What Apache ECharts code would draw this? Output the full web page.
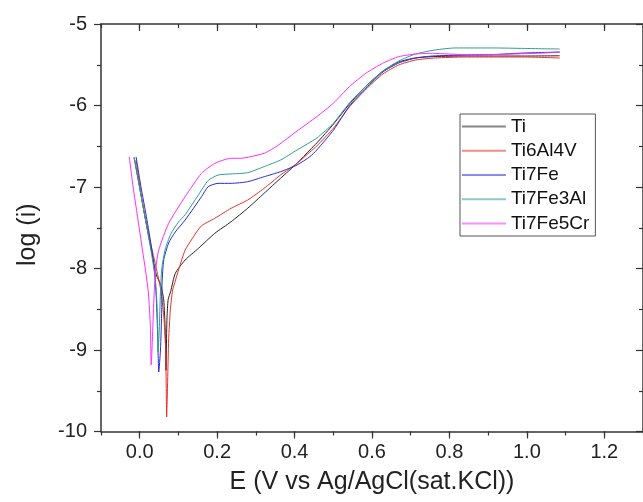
<!DOCTYPE html>
<html>
<head>
<meta charset="utf-8">
<script src="https://cdn.jsdelivr.net/npm/echarts@6/dist/echarts.min.js"></script>
<style>
html,body{margin:0;padding:0;background:#fff;}
#c{width:643px;height:502px;}
</style>
</head>
<body>
<div id="c"></div>
<script>
// Tick labels
const xMajorTicks = [0.0, 0.2, 0.4, 0.6, 0.8, 1.0, 1.2];
const seriesNames = ['Ti', 'Ti6Al4V', 'Ti7Fe', 'Ti7Fe3Al', 'Ti7Fe5Cr'];

// [E (V), log(i)]
const ti = [[-0.0145,-6.64],[-0.0005,-7.0],[0.0135,-7.365],[0.0301,-7.773],[0.0429,-8.08],[0.0543,-8.2],[0.062,-8.387],[0.0658,-8.755],[0.0679,-9.25],[0.0688,-9.0],[0.0705,-8.6],[0.0735,-8.38],[0.08,-8.28],[0.0918,-8.06],[0.1173,-7.896],[0.1518,-7.752],[0.194,-7.568],[0.2362,-7.426],[0.2788,-7.261],[0.3214,-7.077],[0.3638,-6.893],[0.4064,-6.709],[0.4395,-6.546],[0.4574,-6.46],[0.5008,-6.227],[0.5416,-5.982],[0.5849,-5.761],[0.6283,-5.577],[0.6691,-5.466],[0.7125,-5.417],[0.763,-5.399],[0.84,-5.393],[0.917,-5.393],[0.9932,-5.393],[1.085,-5.39]];
const ti6al4v = [[-0.0094,-6.67],[0.0059,-7.16],[0.0237,-7.6],[0.0416,-7.97],[0.0543,-8.264],[0.062,-8.571],[0.0671,-9.0],[0.0696,-9.822],[0.0722,-9.368],[0.0747,-8.877],[0.0791,-8.509],[0.085,-8.264],[0.0926,-8.141],[0.1003,-8.018],[0.1173,-7.773],[0.1334,-7.65],[0.1589,-7.479],[0.1939,-7.384],[0.2362,-7.261],[0.2788,-7.16],[0.3214,-7.016],[0.3638,-6.853],[0.4064,-6.709],[0.4395,-6.571],[0.4574,-6.497],[0.5008,-6.276],[0.5416,-6.018],[0.5849,-5.798],[0.6283,-5.613],[0.6691,-5.503],[0.7125,-5.442],[0.763,-5.417],[0.84,-5.405],[0.917,-5.405],[0.9932,-5.405],[1.085,-5.417]];
const ti7fe = [[-0.0094,-6.63],[0.0033,-7.0],[0.0173,-7.365],[0.0314,-7.773],[0.0403,-8.141],[0.0441,-8.509],[0.0467,-8.877],[0.0492,-9.27],[0.0536,-9.0],[0.0569,-8.509],[0.0577,-8.178],[0.062,-7.896],[0.0747,-7.687],[0.0918,-7.552],[0.1173,-7.405],[0.1597,-7.119],[0.1768,-6.996],[0.2023,-6.955],[0.2362,-6.955],[0.2788,-6.935],[0.3214,-6.874],[0.3638,-6.812],[0.4064,-6.73],[0.4395,-6.628],[0.4574,-6.546],[0.5008,-6.30],[0.5416,-6.006],[0.5849,-5.785],[0.6283,-5.589],[0.6691,-5.479],[0.7125,-5.417],[0.756,-5.393],[0.84,-5.38],[0.917,-5.374],[0.9932,-5.356],[1.085,-5.344]];
const ti7fe3al = [[-0.0145,-6.63],[-0.0005,-7.0],[0.0135,-7.365],[0.0288,-7.773],[0.039,-8.08],[0.0441,-8.387],[0.0467,-8.755],[0.0474,-9.025],[0.0505,-8.755],[0.0535,-8.3],[0.057,-8.0],[0.066,-7.76],[0.08,-7.58],[0.1,-7.43],[0.1173,-7.34],[0.1513,-7.1],[0.1768,-6.92],[0.2023,-6.853],[0.2355,-6.84],[0.2788,-6.824],[0.3214,-6.75],[0.3638,-6.669],[0.4064,-6.546],[0.4574,-6.399],[0.5008,-6.215],[0.5416,-5.969],[0.5849,-5.761],[0.6283,-5.577],[0.6691,-5.454],[0.7125,-5.368],[0.763,-5.319],[0.8146,-5.294],[0.917,-5.294],[0.9932,-5.30],[1.085,-5.307]];
const ti7fe5cr = [[-0.027,-6.63],[-0.0171,-7.0],[-0.0056,-7.365],[0.0071,-7.773],[0.0148,-8.018],[0.0224,-8.30],[0.0276,-8.714],[0.0296,-9.184],[0.0327,-8.877],[0.0365,-8.387],[0.0408,-8.018],[0.0492,-7.773],[0.0747,-7.446],[0.1173,-7.119],[0.1597,-6.832],[0.194,-6.71],[0.2355,-6.648],[0.261,-6.648],[0.2865,-6.628],[0.3214,-6.587],[0.3375,-6.546],[0.355,-6.497],[0.4064,-6.313],[0.4574,-6.137],[0.50,-5.973],[0.5416,-5.769],[0.5839,-5.605],[0.6276,-5.482],[0.669,-5.401],[0.7125,-5.368],[0.756,-5.36],[0.797,-5.368],[0.866,-5.38],[0.968,-5.368],[1.044,-5.356],[1.085,-5.344]];

const seriesData = [ti, ti6al4v, ti7fe, ti7fe3al, ti7fe5cr];
const colors = ['#222222', '#e8302a', '#2a2ad6', '#2f9e8e', '#ff2cff'];

const FONT = '"Liberation Sans", Arial, sans-serif';
const axisLineStyle = {color: '#333', width: 1.5};
const xMin = -0.1, xMax = 1.3;

function xAx(pos, major, inside) {
  const a = {
    type: 'value', position: pos, offset: 0, min: xMin, max: xMax,
    splitLine: {show: false},
    axisLine: {show: major, onZero: false, lineStyle: axisLineStyle},
    axisTick: {show: true, inside: inside, length: major ? 7 : 4, lineStyle: {color: '#333', width: 1.2}},
    axisLabel: {show: false}
  };
  if (major) {
    a.axisTick.customValues = xMajorTicks;
    if (pos === 'bottom') {
      a.axisLabel = {show: true, customValues: xMajorTicks, margin: 11, fontSize: 20, fontFamily: FONT, color: '#222',
        formatter: v => v.toFixed(1)};
      a.name = 'E (V vs Ag/AgCl(sat.KCl))';
      a.nameLocation = 'middle';
      a.nameGap = 38;
      a.nameTextStyle = {fontSize: 25, fontFamily: FONT, color: '#222'};
    }
  } else {
    a.interval = 0.1;
  }
  return a;
}

const option = {
  backgroundColor: '#fff',
  animation: false,
  grid: {left: 101, top: 24, width: 549, height: 407.5, containLabel: false},
  xAxis: [xAx('bottom', true, false), xAx('bottom', false, false), xAx('top', true, true), xAx('top', false, true)],
  yAxis: [
    {type: 'value', position: 'left', min: -10, max: -5, interval: 1,
     splitLine: {show: false},
     axisLine: {show: true, onZero: false, lineStyle: axisLineStyle},
     axisTick: {show: true, inside: false, length: 7, lineStyle: {color: '#333', width: 1.2}},
     minorTick: {show: true, splitNumber: 2, length: 4, lineStyle: {color: '#333', width: 1.2}},
     axisLabel: {margin: 14, fontSize: 20, fontFamily: FONT, color: '#222'},
     name: 'log (i)', nameLocation: 'middle', nameGap: 60,
     nameTextStyle: {fontSize: 25, fontFamily: FONT, color: '#222', padding: [0, 14, 0, 0]}},
    {type: 'value', position: 'right', offset: 0, min: -10, max: -5, interval: 1,
     splitLine: {show: false},
     axisLine: {show: true, onZero: false, lineStyle: axisLineStyle},
     axisTick: {show: true, inside: true, length: 7, lineStyle: {color: '#333', width: 1.2}},
     minorTick: {show: true, splitNumber: 2, length: 4, lineStyle: {color: '#333', width: 1.2}},
     axisLabel: {show: false}}
  ],
  legend: {
    orient: 'vertical', left: 460, top: 114,
    data: seriesNames,
    itemWidth: 44, itemHeight: 14, itemGap: 5.25,
    padding: [3, 6, 3, 1],
    borderColor: '#555', borderWidth: 1,
    itemStyle: {opacity: 0},
    lineStyle: {opacity: 0.55, width: 1.8},
    textStyle: {fontSize: 19, fontFamily: FONT, color: '#111'}
  },
  series: seriesNames.map((n, i) => ({
    name: n, type: 'line', data: seriesData[i],
    xAxisIndex: 0, yAxisIndex: 0,
    symbol: 'none', showSymbol: false,
    smooth: 0.2,
    lineStyle: {width: 1, color: colors[i]},
    itemStyle: {color: colors[i]},
    clip: true
  }))
};

const chart = echarts.init(document.getElementById('c'), null, {renderer: 'canvas'});
chart.setOption(option);
</script>
</body>
</html>
